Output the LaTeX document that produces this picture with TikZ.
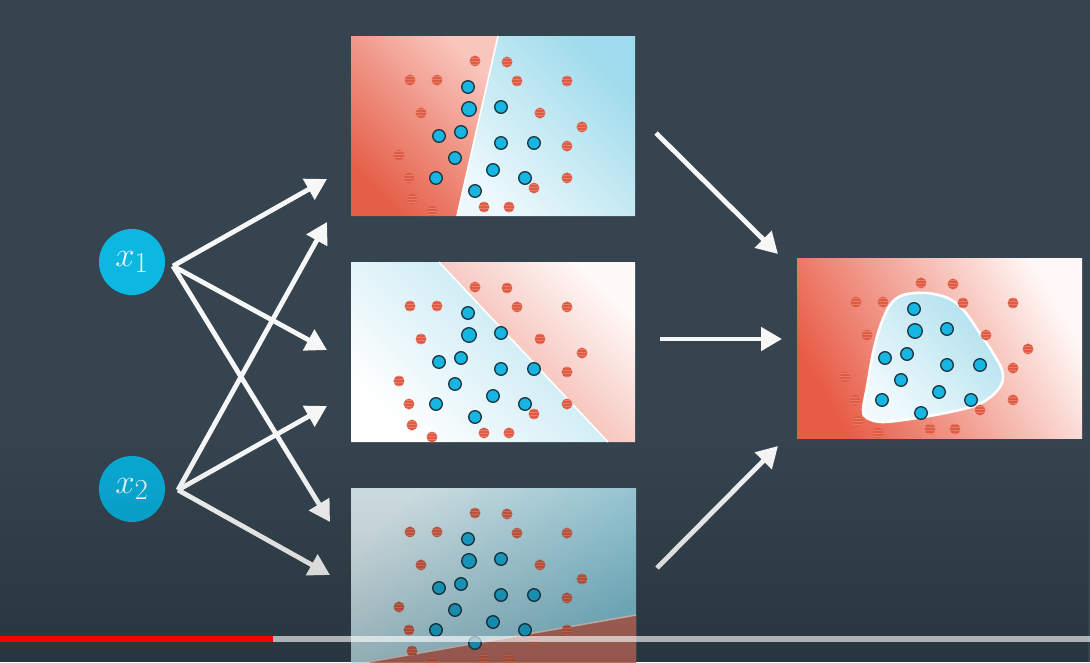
\documentclass[tikz,border=0pt]{standalone}
\usepackage{graphicx}
\usetikzlibrary{arrows.meta,patterns,fadings}
\definecolor{bg}{HTML}{35444F}
\definecolor{rdot}{HTML}{DE5C45}
\definecolor{rstripe}{HTML}{E97C67}
\definecolor{bdot}{HTML}{17B6E2}
\definecolor{bline}{HTML}{1B3440}
\definecolor{rdotf}{HTML}{C85A44}
\definecolor{rstripef}{HTML}{D47864}
\definecolor{bdotf}{HTML}{1AA6CE}
\definecolor{nodeA}{HTML}{0CB7E2}
\definecolor{nodeB}{HTML}{0AABD5}
\definecolor{ntext}{HTML}{EAF6FA}
\definecolor{arrw}{HTML}{F7F7F7}
% panel colours
\definecolor{toprL}{HTML}{F9C6BD}
\definecolor{toprD}{HTML}{E55E47}
\definecolor{topbD}{HTML}{9EDBEC}
\definecolor{topbL}{HTML}{ECF8FB}
\definecolor{midbD}{HTML}{B8E4F0}
\definecolor{midrL}{HTML}{FFFAF9}
\definecolor{midrD}{HTML}{F0A092}
\definecolor{botbL}{HTML}{D4E5E9}
\definecolor{botbD}{HTML}{80C2D4}
\definecolor{botr}{HTML}{B66C60}
\definecolor{botsep}{HTML}{DACCC8}
\definecolor{rgtL}{HTML}{FFF8F6}
\definecolor{rgtD}{HTML}{E85C46}
\definecolor{blobD}{HTML}{B0E0EE}
\definecolor{blobL}{HTML}{F0FAFC}
\newcommand\mydots[3]{%
  \foreach \u/\v in {124/25,156/26,59/44,86/44,166/45,216/45,70/77,189/77,231/91,48/119,216/110,58/142,216/142,183/152,61/163,81/175,133/171,158/171}
    \path[#1] (\u,\v) circle (5.4);
  \foreach \u/\v in {117/51,150/71,88/100,110/96,150/107,183/107,104/122,142/134,174/142,85/142,124/155}
    \path[#2] (\u,\v) circle (6.3);
  \path[#2] (118,73) circle (7.3);
}
\newcommand\bigmath[1]{\scalebox{1.4}{$#1$}}
\begin{document}
\begin{tikzpicture}[x=1pt,y=-1pt,
  reddot/.style={preaction={fill=rdot}, pattern=horizontal lines, pattern color=rstripe},
  bluedot/.style={fill=bdot, draw=bline, line width=1.3pt},
  reddotf/.style={preaction={fill=rdotf}, pattern=horizontal lines, pattern color=rstripef},
  bluedotf/.style={fill=bdotf, draw=bline, line width=1.3pt},
  xnode/.style={circle, minimum size=66pt, inner sep=0pt, text=ntext, font=\fontsize{24.88}{30}\selectfont},
  arr/.style={draw=arrw, line width=4.8pt, -{Triangle[length=21pt,width=23pt]}},
  sep/.style={draw=white, line width=1.6pt}
]
\clip (0,0) rectangle (1090,662);
\fill[bg] (0,0) rectangle (1090,662);

% ---------- top panel ----------
\begin{scope}[shift={(351,36)}]
  \shade[top color=toprL, bottom color=toprD, shading angle=-45]
    (0,0) -- (147,0) -- (106,180) -- (0,180) -- cycle;
  \shade[top color=topbD, bottom color=topbL, shading angle=-45]
    (147,0) -- (284,0) -- (284,180) -- (106,180) -- cycle;
  \draw[sep] (147,0) -- (106,180);
  \mydots{reddot}{bluedot}{}
\end{scope}

% ---------- middle panel ----------
\begin{scope}[shift={(351,262)}]
  \shade[top color=midbD, bottom color=white, shading angle=-45]
    (0,0) -- (88,0) -- (257,180) -- (0,180) -- cycle;
  \shade[top color=midrL, bottom color=midrD, shading angle=-45]
    (88,0) -- (284,0) -- (284,180) -- (257,180) -- cycle;
  \draw[sep] (88,0) -- (257,180);
  \mydots{reddot}{bluedot}{}
\end{scope}

% ---------- bottom panel (fading in) ----------
\begin{scope}[shift={(351,488)}]
  \shade[top color=botbL, bottom color=botbD, shading angle=45]
    (0,0) rectangle (285,180);
  \fill[botr] (0,177) -- (285,127) -- (285,180) -- (0,180) -- cycle;
  \draw[draw=botsep, line width=1.6pt] (0,177) -- (285,127);
  \mydots{reddotf}{bluedotf}{}
\end{scope}

% ---------- right panel ----------
\begin{scope}[shift={(797,258)}]
  \shade[top color=rgtL, bottom color=rgtD, shading angle=-60]
    (0,0) rectangle (285,180);
  \path[draw=white, line width=2.6pt, top color=blobD, bottom color=blobL, shading angle=-45]
    plot[smooth cycle, tension=0.55] coordinates {(93,47) (106,37) (130,35) (153,41) (168,54) (182,74) (196,95) (205,112) (205,125) (196,137) (180,147) (153,154) (120,160) (86,164) (70,160) (66,152) (70,129) (76,95) (83,69)};
  \mydots{reddot}{bluedot}{}
\end{scope}

% ---------- input nodes ----------
\node[xnode, fill=nodeA] (x1) at (132,262) {\bigmath{x_1}};
\node[xnode, fill=nodeB] (x2) at (132,489) {\bigmath{x_2}};

\coordinate (s1) at (173,266);
\coordinate (s2) at (178,490);
\coordinate (t1) at (327,179);
\coordinate (t2) at (327,350);
\coordinate (t3) at (330,522);
\coordinate (t4) at (327,222);
\coordinate (t5) at (327,406);
\coordinate (t6) at (330,575);
\coordinate (r1s) at (656,133);
\coordinate (r1e) at (778,254);
\coordinate (r2s) at (660,339);
\coordinate (r2e) at (782,339);
\coordinate (r3s) at (657,568);
\coordinate (r3e) at (778,446);

\draw[arr] (s1) -- (t1);
\draw[arr] (s1) -- (t2);
\draw[arr] (s1) -- (t3);
\draw[arr] (s2) -- (t4);
\draw[arr] (s2) -- (t5);
\draw[arr] (s2) -- (t6);
\draw[arr] (r1s) -- (r1e);
\draw[arr] (r2s) -- (r2e);
\draw[arr] (r3s) -- (r3e);

% ---------- darkening at the bottom ----------
\fill[black, path fading=north, fill opacity=0.2] (0,440) rectangle (1090,662);

% ---------- progress bar ----------
\fill[red] (0,636) rectangle (273,642);
\fill[white, fill opacity=0.62] (273,636) rectangle (1090,642);
\end{tikzpicture}
\end{document}
